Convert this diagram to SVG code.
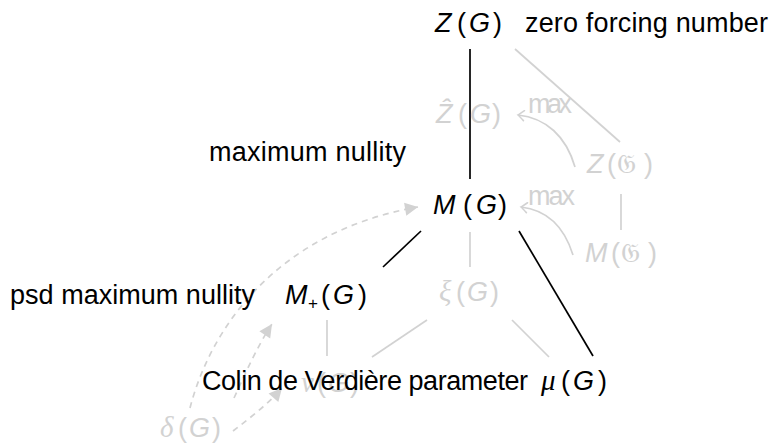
<svg xmlns="http://www.w3.org/2000/svg" width="771" height="445" viewBox="0 0 771 445">
<style>
text{font-family:"Liberation Sans","DejaVu Sans",sans-serif;font-size:27px;fill:#000}
.g{fill:#d2d2d2}
.i{font-style:italic}
.gr{font-family:"Liberation Serif","DejaVu Serif",serif;font-style:italic;font-size:29px}
.fr{font-family:"DejaVu Serif","DejaVu Sans","Noto Sans",serif;font-style:normal}
.sub{font-size:17px}
.bl{stroke:#000;stroke-width:1.7;fill:none}
.gl{stroke:#d2d2d2;stroke-width:1.7;fill:none}
.da{stroke:#d2d2d2;stroke-width:1.7;fill:none;stroke-dasharray:6 5}
</style>
<defs>
<marker id="to" viewBox="-8 -6 10 12" markerWidth="10" markerHeight="12" refX="0" refY="0" orient="auto" markerUnits="userSpaceOnUse">
<path d="M-6,-5 Q-1.5,-1 0,0 Q-1.5,1 -6,5" fill="none" stroke="#d2d2d2" stroke-width="1.6" stroke-linecap="round"/>
</marker>
<marker id="tri" viewBox="-14 -7 15 14" markerWidth="15" markerHeight="14" refX="0" refY="0" orient="auto" markerUnits="userSpaceOnUse">
<path d="M-13,-6.5 L0,0 L-13,6.5 Z" fill="#d2d2d2"/>
</marker>
</defs>

<g id="connectors">
<line class="bl" x1="470" y1="49" x2="470" y2="179"/>
<line class="gl" x1="515" y1="49" x2="620" y2="142"/>
<line class="gl" x1="621" y1="194" x2="621" y2="230"/>
<line class="bl" x1="421" y1="231" x2="383" y2="267"/>
<line class="bl" x1="519" y1="231" x2="593" y2="356"/>
<line class="gl" x1="470" y1="232" x2="470" y2="267"/>
<line class="gl" x1="327" y1="320" x2="327" y2="356"/>
<line class="gl" x1="427" y1="320" x2="372" y2="357"/>
<line class="gl" x1="512" y1="320" x2="549" y2="357"/>
<path class="gl" d="M575,167 C566,136 546,118 518,115" marker-end="url(#to)"/>
<path class="gl" d="M573,255 C564,226 547,210 521,207" marker-end="url(#to)"/>
<path class="da" d="M190,408 C210,330 275,232 418,207" marker-end="url(#tri)"/>
<path class="da" d="M234,398 C246,372 258,345 272,324" marker-end="url(#tri)"/>
<path class="da" d="M233,431 C250,418 268,404 282,388" marker-end="url(#tri)"/>
</g>

<g id="Z">
<text y="32"><tspan class="i" x="435">Z</tspan><tspan x="457">(</tspan><tspan class="i" x="469">G</tspan><tspan x="493">)</tspan></text>
<text x="525" y="32" textLength="243">zero forcing number</text>
</g>
<g id="Zhat">
<text class="g" y="123"><tspan class="i" x="436">Ẑ</tspan><tspan x="458">(</tspan><tspan class="i" x="470">G</tspan><tspan x="492">)</tspan></text>
</g>
<g id="max1"><text class="g" x="528" y="113" textLength="44">max</text></g>
<g id="ZG">
<text class="g" y="173"><tspan class="i" x="587">Z</tspan><tspan x="607">(</tspan><tspan class="fr" x="617">𝔊</tspan><tspan x="644">)</tspan></text>
</g>
<g id="M">
<text x="209" y="161" textLength="197">maximum nullity</text>
<text y="214"><tspan class="i" x="433">M</tspan><tspan x="463">(</tspan><tspan class="i" x="476">G</tspan><tspan x="498">)</tspan></text>
</g>
<g id="max2"><text class="g" x="528" y="205" textLength="47">max</text></g>
<g id="MG">
<text class="g" y="262"><tspan class="i" x="585">M</tspan><tspan x="611">(</tspan><tspan class="fr" x="621">𝔊</tspan><tspan x="648">)</tspan></text>
</g>
<g id="Mplus">
<text x="10" y="304" textLength="245">psd maximum nullity</text>
<text y="304"><tspan class="i" x="285">M</tspan><tspan class="sub" x="308" dy="5">+</tspan><tspan x="321" dy="-5">(</tspan><tspan class="i" x="333">G</tspan><tspan x="358">)</tspan></text>
</g>
<g id="xi">
<text class="g" y="301"><tspan class="gr" x="439">ξ</tspan><tspan x="456">(</tspan><tspan class="i" x="467">G</tspan><tspan x="490">)</tspan></text>
</g>
<g id="nu">
<text class="g" y="392"><tspan class="gr" x="301">ν</tspan><tspan x="317">(</tspan><tspan class="i" x="328">G</tspan><tspan x="350">)</tspan></text>
</g>
<g id="mu">
<text x="202" y="390" textLength="326">Colin de Verdière parameter</text>
<text y="390"><tspan class="gr" x="541">μ</tspan><tspan x="561">(</tspan><tspan class="i" x="573">G</tspan><tspan x="598">)</tspan></text>
</g>
<g id="delta">
<text class="g" y="437"><tspan class="gr" x="160">δ</tspan><tspan x="178">(</tspan><tspan class="i" x="189">G</tspan><tspan x="212">)</tspan></text>
</g>
</svg>
